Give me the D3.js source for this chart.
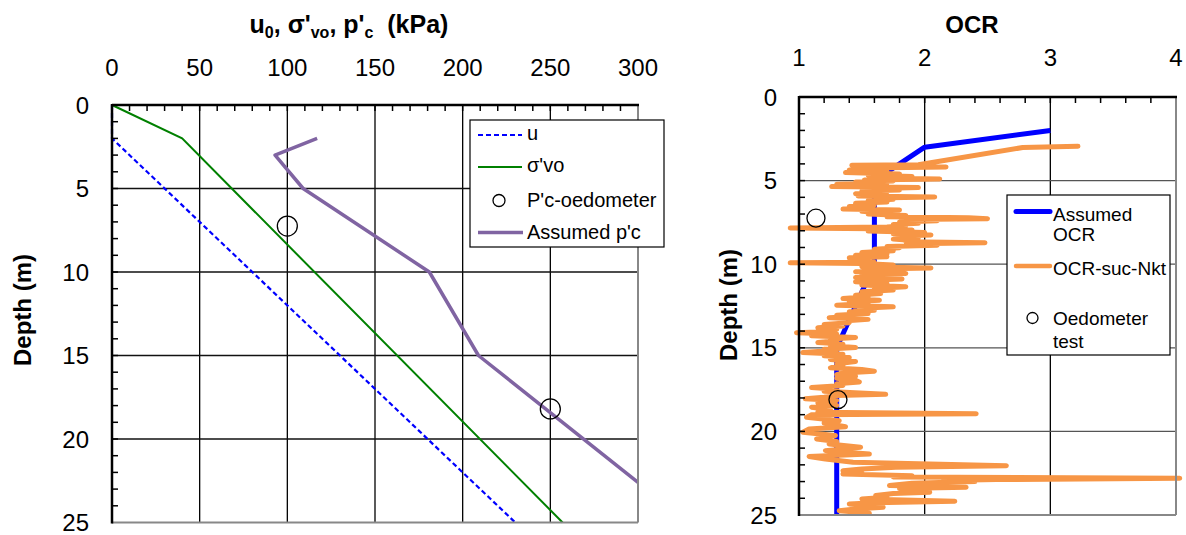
<!DOCTYPE html>
<html><head><meta charset="utf-8">
<script src="https://cdn.jsdelivr.net/npm/d3@7"></script>
<style>
html,body{margin:0;padding:0;background:#fff;}
text{font-family:"Liberation Sans",Arial,sans-serif;fill:#000;}
</style></head>
<body>
<svg id="c" width="1186" height="535"></svg>
<script>
// ---------- Data: left chart (stress, kPa vs depth, m) ----------
const uDepth = [0, 2, 25];
const uValue = [0, 0, 230];
const sigmaDepth = [0, 2, 25];
const sigmaValue = [0, 40, 257];
const pcDepth = [2, 3, 5, 10, 15, 22.6];
const pcValue = [117, 93, 109, 181, 209, 300];
const pcOedoDepth = [7.25, 18.2];
const pcOedoValue = [100, 250];
const leftXTicks = [0, 50, 100, 150, 200, 250, 300];
const depthTicks = [0, 5, 10, 15, 20, 25];

// ---------- Data: right chart (OCR vs depth) ----------
const ocrAssumedDepth = [2, 3, 5, 10, 15, 25];
const ocrAssumedValue = [3, 2, 1.6, 1.6, 1.3, 1.3];
const ocrOedoDepth = [7.25, 18.1];
const ocrOedoValue = [1.135, 1.31];
const rightXTicks = [1, 2, 3, 4];
// OCR-suc-Nkt profile: [depth (m), OCR]
const ocrSucNkt = [
[2.95,3.22],[3.02,2.78],[4.05,1.95],
[4.08,1.42],[4.12,1.75],[4.18,2.17],[4.24,1.55],[4.3,1.65],[4.36,1.4],[4.45,1.7],[4.52,1.37],[4.6,1.8],[4.68,1.55],[4.76,1.9],[4.84,1.6],[4.9,2.12],[4.96,1.52],[5.02,1.75],[5.08,1.45],
[5.15,1.7],[5.22,1.3],[5.3,1.5],[5.36,1.26],[5.42,1.95],[5.48,1.55],[5.56,1.8],[5.62,1.5],[5.7,1.65],[5.78,1.45],[5.86,1.7],[5.92,1.47],[5.98,2.08],[6.04,1.6],[6.12,1.75],[6.2,1.55],[6.28,1.7],[6.36,1.45],
[6.45,1.6],[6.55,1.4],[6.62,1.55],[6.7,1.35],[6.76,1.8],[6.84,1.5],[6.92,1.65],[7.0,1.55],[7.08,1.85],[7.16,1.7],[7.22,2.35],[7.28,2.5],[7.32,1.85],[7.4,2.1],[7.48,1.8],[7.55,1.95],[7.62,1.75],[7.7,1.85],[7.78,1.7],[7.84,0.93],[7.88,1.6],[7.95,1.9],[8.02,1.55],[8.1,2.0],[8.18,1.75],[8.25,2.05],[8.32,1.8],[8.4,1.95],[8.5,1.75],[8.58,1.9],[8.66,1.85],[8.72,2.48],[8.78,1.9],[8.86,2.1],[8.94,1.7],[9.02,1.8],[9.1,1.6],[9.2,1.75],[9.3,1.5],[9.38,1.7],[9.46,1.45],[9.55,1.7],[9.62,1.4],[9.7,1.55],[9.78,1.45],[9.88,1.6],[9.92,0.93],[9.96,1.5],[10.05,1.75],[10.15,1.5],[10.22,2.05],[10.28,1.6],[10.36,1.75],[10.45,1.45],[10.55,1.85],[10.62,1.5],[10.7,1.65],[10.8,1.45],
[10.88,1.82],[10.95,1.6],[11.05,1.45],[11.15,1.7],[11.25,1.5],[11.35,1.85],[11.45,1.6],[11.55,1.75],[11.65,1.5],[11.75,1.65],[11.85,1.45],[11.95,1.55],[12.05,1.35],[12.15,1.64],[12.25,1.4],[12.35,1.55],[12.45,1.3],[12.55,1.75],[12.65,1.45],[12.75,1.6],[12.85,1.4],[12.95,1.55],[13.05,1.3],[13.12,1.45],[13.2,1.24],[13.3,1.55],[13.4,1.35],[13.5,1.4],[13.6,1.2],[13.7,1.35],[13.8,1.15],[13.9,1.3],[14.02,1.25],[14.1,0.98],[14.18,1.3],[14.28,1.1],[14.38,1.45],[14.48,1.25],[14.58,1.3],[14.68,1.15],[14.78,1.35],[14.88,1.25],[14.98,1.45],[15.08,1.2],[15.15,1.3],[15.28,1.03],[15.38,1.35],[15.48,1.2],[15.58,1.4],[15.7,1.25],[15.82,1.45],[15.95,1.3],[16.05,1.35],[16.2,1.25],[16.3,1.5],[16.4,1.6],[16.5,1.35],[16.6,1.3],[16.7,1.45],[16.82,1.3],[16.95,1.45],[17.05,1.48],[17.15,1.3],[17.25,1.35],[17.38,1.1],[17.48,1.3],[17.6,1.2],[17.78,1.69],[17.86,1.3],[17.95,1.2],[18.05,1.05],[18.15,1.3],[18.3,1.15],[18.45,1.3],[18.55,1.1],[18.7,1.25],[18.85,1.15],[18.95,2.41],[19.0,1.1],
[19.16,1.06],[19.36,1.32],[19.5,1.2],[19.72,1.37],[19.86,1.08],[20.05,1.03],[20.25,1.29],[20.45,1.14],[20.6,1.3],[20.75,1.24],[20.95,1.49],[21.15,1.21],[21.35,1.56],[21.5,1.08],[21.65,1.21],[21.85,1.43],[22.05,2.65],[22.15,1.77],[22.25,1.5],[22.35,1.35],[22.45,1.5],[22.55,1.35],[22.65,1.9],[22.72,1.75],[22.8,4.03],[22.88,2.57],[22.94,2.15],[23.0,2.4],[23.1,1.9],[23.24,1.72],[23.34,2.33],[23.42,1.8],[23.5,1.95],[23.64,2.04],[23.72,1.75],[23.84,1.61],[23.94,1.7],[24.04,1.5],[24.18,2.24],[24.26,1.6],[24.34,1.4],[24.44,1.55],[24.54,1.67],[24.64,1.45],[24.74,1.32],[24.82,1.45],[24.9,1.56]
];

const svg = d3.select("#c");
svg.append("rect").attr("width",1186).attr("height",535).attr("fill","#fff");

function zipXY(xs, ys){ return xs.map((v,i)=>({x:v, d:ys[i]})); }

function drawFrame(g, x, y, xMin, xMax, xMajor, gridH) {
  const [x0,x1] = x.range(), [y0,y1] = y.range();
  xMajor.filter(v=>v>xMin && v<xMax).forEach(v=>{
    g.append("line").attr("x1",x(v)).attr("x2",x(v)).attr("y1",y0).attr("y2",y1).attr("stroke","#000").attr("stroke-width",1.3);
  });
  depthTicks.filter(v=>v>0 && v<25).forEach(v=>{
    g.append("line").attr("x1",x0).attr("x2",x1).attr("y1",y(v)).attr("y2",y(v)).attr("stroke",gridH).attr("stroke-width",1.3);
  });
}
function drawBorder(g, x, y, xMin, xMax, xMinorStep) {
  const [x0,x1] = x.range(), [y0,y1] = y.range();
  const n = Math.round((xMax-xMin)/xMinorStep);
  for (let i=1;i<n;i++){
    const v = xMin + i*xMinorStep;
    g.append("line").attr("x1",x(v)).attr("x2",x(v)).attr("y1",y0).attr("y2",y0+6).attr("stroke","#000").attr("stroke-width",1.5);
  }
  for (let d=1; d<25; d++){
    g.append("line").attr("x1",x0).attr("x2",x0+6).attr("y1",y(d)).attr("y2",y(d)).attr("stroke","#000").attr("stroke-width",1.5);
  }
  g.append("line").attr("x1",x1).attr("x2",x1).attr("y1",y0).attr("y2",y1).attr("stroke","#888").attr("stroke-width",2);
  g.append("line").attr("x1",x0).attr("x2",x1).attr("y1",y1).attr("y2",y1).attr("stroke","#888").attr("stroke-width",2);
  g.append("line").attr("x1",x0).attr("x2",x1+1).attr("y1",y0).attr("y2",y0).attr("stroke","#000").attr("stroke-width",2.5);
  g.append("line").attr("x1",x0).attr("x2",x0).attr("y1",y0-1).attr("y2",y1+1).attr("stroke","#000").attr("stroke-width",2.5);
}
function tickLabels(g, x, y, xTicks, xLabelY, yLabelX) {
  xTicks.forEach(v=>{
    g.append("text").attr("x",x(v)).attr("y",xLabelY).attr("text-anchor","middle").attr("font-size",24).text(v);
  });
  depthTicks.forEach(v=>{
    g.append("text").attr("x",yLabelX).attr("y",y(v)+8.5).attr("text-anchor","end").attr("font-size",24).text(v);
  });
}

// ================= LEFT CHART =================
const xL = d3.scaleLinear().domain([0,300]).range([112,638]);
const yL = d3.scaleLinear().domain([0,25]).range([105,522.5]);
const gL = svg.append("g");
drawFrame(gL, xL, yL, 0, 300, leftXTicks, "#111");
const lineL = d3.line().x(p=>xL(p.x)).y(p=>yL(p.d));
gL.append("path").datum(zipXY(uValue,uDepth)).attr("d",lineL).attr("fill","none").attr("stroke","#0000ff").attr("stroke-width",2.2).attr("stroke-dasharray","5,3");
gL.append("path").datum(zipXY(sigmaValue,sigmaDepth)).attr("d",lineL).attr("fill","none").attr("stroke","#008000").attr("stroke-width",2);
gL.append("path").datum(zipXY(pcValue,pcDepth)).attr("d",lineL).attr("fill","none").attr("stroke","#8064a2").attr("stroke-width",3.5).attr("stroke-linejoin","round");
gL.selectAll("circle.oed").data(zipXY(pcOedoValue,pcOedoDepth)).enter().append("circle")
  .attr("cx",p=>xL(p.x)).attr("cy",p=>yL(p.d)).attr("r",10).attr("fill","none").attr("stroke","#000").attr("stroke-width",1.3);
drawBorder(gL, xL, yL, 0, 300, 10);
tickLabels(gL, xL, yL, leftXTicks, 76, 89);

// left title
const tL = svg.append("text").attr("x",349).attr("y",33).attr("text-anchor","middle").attr("font-size",25).attr("font-weight","bold");
tL.append("tspan").text("u");
tL.append("tspan").attr("font-size",16).attr("dy",5).text("0");
tL.append("tspan").attr("dy",-5).text(", σ'");
tL.append("tspan").attr("font-size",16).attr("dy",5).text("vo");
tL.append("tspan").attr("dy",-5).text(", p'");
tL.append("tspan").attr("font-size",16).attr("dy",5).text("c");
tL.append("tspan").attr("dy",-5).text("\u00a0 (kPa)");

svg.append("text").attr("transform","translate(31,310) rotate(-90)").attr("text-anchor","middle").attr("font-size",24).attr("font-weight","bold").text("Depth (m)");

// left legend
const lgL = svg.append("g");
lgL.append("rect").attr("x",470).attr("y",120).attr("width",194).attr("height",127).attr("fill","#fff").attr("stroke","#000").attr("stroke-width",1.2);
lgL.append("line").attr("x1",478).attr("x2",522).attr("y1",135).attr("y2",135).attr("stroke","#0000ff").attr("stroke-width",2.2).attr("stroke-dasharray","5,3");
lgL.append("line").attr("x1",478).attr("x2",522).attr("y1",167).attr("y2",167).attr("stroke","#008000").attr("stroke-width",2);
lgL.append("circle").attr("cx",499).attr("cy",200.5).attr("r",6).attr("fill","none").attr("stroke","#000").attr("stroke-width",1.3);
lgL.append("line").attr("x1",478).attr("x2",523).attr("y1",232.5).attr("y2",232.5).attr("stroke","#8064a2").attr("stroke-width",3.5);
[["u",140],["σ'vo",172],["P'c-oedometer",207],["Assumed p'c",239]].forEach(([t,yy])=>{
  lgL.append("text").attr("x",527).attr("y",yy).attr("font-size",20).text(t);
});

// ================= RIGHT CHART =================
const xR = d3.scaleLinear().domain([1,4]).range([799,1176]);
const yR = d3.scaleLinear().domain([0,25]).range([97,515]);
const gR = svg.append("g");
drawFrame(gR, xR, yR, 1, 4, rightXTicks, "#555");
const lineR = d3.line().x(p=>xR(p.x)).y(p=>yR(p.d));
gR.append("path").datum(zipXY(ocrAssumedValue,ocrAssumedDepth)).attr("d",lineR).attr("fill","none").attr("stroke","#0000ff").attr("stroke-width",5).attr("stroke-linejoin","round");
gR.append("path").datum(ocrSucNkt.map(p=>({x:p[1], d:p[0]}))).attr("d",lineR).attr("fill","none").attr("stroke","#f79646").attr("stroke-width",5).attr("stroke-linejoin","round").attr("stroke-linecap","round");
gR.selectAll("circle.oed").data(zipXY(ocrOedoValue,ocrOedoDepth)).enter().append("circle")
  .attr("cx",p=>xR(p.x)).attr("cy",p=>yR(p.d)).attr("r",9).attr("fill","none").attr("stroke","#000").attr("stroke-width",1.3);
drawBorder(gR, xR, yR, 1, 4, 0.2);
tickLabels(gR, xR, yR, rightXTicks, 66, 777);

svg.append("text").attr("x",972).attr("y",33).attr("text-anchor","middle").attr("font-size",24).attr("font-weight","bold").text("OCR");
svg.append("text").attr("transform","translate(737,305) rotate(-90)").attr("text-anchor","middle").attr("font-size",24).attr("font-weight","bold").text("Depth (m)");

// right legend
const lgR = svg.append("g");
lgR.append("rect").attr("x",1007).attr("y",195).attr("width",163).attr("height",160).attr("fill","#fff").attr("stroke","#000").attr("stroke-width",1.2);
lgR.append("line").attr("x1",1016).attr("x2",1050).attr("y1",211.5).attr("y2",211.5).attr("stroke","#0000ff").attr("stroke-width",5).attr("stroke-linecap","round");
lgR.append("line").attr("x1",1016).attr("x2",1050).attr("y1",266).attr("y2",266).attr("stroke","#f79646").attr("stroke-width",4.5).attr("stroke-linecap","round");
lgR.append("circle").attr("cx",1032.5).attr("cy",318).attr("r",5.5).attr("fill","none").attr("stroke","#000").attr("stroke-width",1.3);
[["Assumed",220.5],["OCR",240.5],["OCR-suc-Nkt",274.5],["Oedometer",324.5],["test",348]].forEach(([t,yy])=>{
  lgR.append("text").attr("x",1053).attr("y",yy).attr("font-size",19).text(t);
});
</script>
</body></html>
